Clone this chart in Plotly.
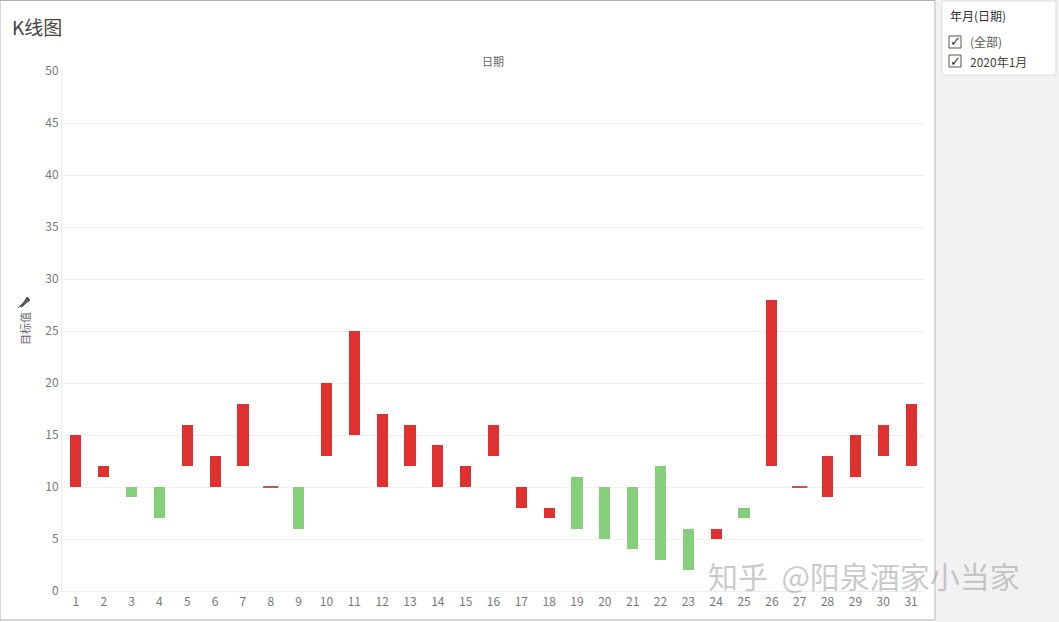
import plotly.graph_objects as go

days = list(range(1, 32))
low_vals = [10, 11, 9, 7, 12, 10, 12, 10, 6, 13, 15, 10, 12, 10, 10, 13, 8, 7, 6, 5, 4, 3, 2, 5, 7, 12, 10, 9, 11, 13, 12]
high_vals = [15, 12, 10, 10, 16, 13, 18, 10, 10, 20, 25, 17, 16, 14, 12, 16, 10, 8, 11, 10, 10, 12, 6, 6, 8, 28, 10, 13, 15, 16, 18]
trend = ["涨", "涨", "跌", "跌", "涨", "涨", "涨", "涨", "跌", "涨", "涨", "涨", "涨", "涨", "涨", "涨",
         "涨", "涨", "跌", "跌", "跌", "跌", "跌", "涨", "跌", "涨", "涨", "涨", "涨", "涨", "涨"]
y_ticks = [0, 5, 10, 15, 20, 25, 30, 35, 40, 45, 50]

RED = "#e03131"
GREEN = "#86cf7a"

W, H = 1059, 622
L, R, T, B = 62, 925, 71, 591

def px(x):
    return (x - L) / (R - L)

def py(y):
    return (B - y) / (B - T)

sizes = [h - l for l, h in zip(low_vals, high_vals)]
colors = [RED if t == "涨" else GREEN for t in trend]

fig = go.Figure()
fig.add_trace(go.Bar(
    x=days, y=sizes, base=low_vals, width=0.4,
    marker=dict(color=colors, line=dict(width=0)),
    showlegend=False,
))
doji_x = [d for d, l, h in zip(days, low_vals, high_vals) if l == h]
doji_y = [l for l, h in zip(low_vals, high_vals) if l == h]
fig.add_trace(go.Scatter(
    x=doji_x, y=doji_y, mode="markers",
    marker=dict(symbol="line-ew", size=11, line=dict(color="#b22222", width=1.5)),
    showlegend=False, hoverinfo="skip",
))

font_family = "Noto Sans CJK SC, Noto Sans, sans-serif"
fig.update_layout(
    width=W, height=H,
    margin=dict(l=L, r=W - R, t=T, b=H - B),
    paper_bgcolor="white", plot_bgcolor="white",
    font=dict(family=font_family, color="#666", size=12),
    bargap=0,
    xaxis=dict(
        range=[0.5, 31.5], tickmode="array", tickvals=days,
        ticktext=[str(d) for d in days],
        showgrid=False, zeroline=False, showline=True, linecolor="#ececec",
        ticks="", tickfont=dict(size=12, color="#777"), fixedrange=True,
    ),
    yaxis=dict(
        range=[0, 50], tickmode="array", tickvals=y_ticks,
        showgrid=True, gridcolor="#f0f0f0", zeroline=False,
        showline=True, linecolor="#ececec", ticks="",
        tickfont=dict(size=12, color="#777"), fixedrange=True,
    ),
)

shapes = []
# right gray panel
shapes.append(dict(type="rect", xref="paper", yref="paper",
                   x0=px(936), x1=px(W + 2), y0=py(H + 2), y1=py(-2),
                   fillcolor="#f2f2f2", line=dict(width=0), layer="below"))
# outer border of left pane
shapes.append(dict(type="rect", xref="paper", yref="paper",
                   x0=px(0), x1=px(935), y0=py(620), y1=py(0.5),
                   fillcolor="rgba(0,0,0,0)", line=dict(color="#b0b0b0", width=1)))
# filter box
shapes.append(dict(type="rect", xref="paper", yref="paper",
                   x0=px(942), x1=px(1056), y0=py(75), y1=py(1),
                   fillcolor="white", line=dict(color="#dcdcdc", width=1)))
# checkboxes
for cy in (42, 61):
    shapes.append(dict(type="rect", xref="paper", yref="paper",
                       x0=px(949), x1=px(961), y0=py(cy + 6), y1=py(cy - 6),
                       fillcolor="white", line=dict(color="#555", width=1)))
# pin icon near y-axis title
shapes.append(dict(type="path", xref="paper", yref="paper",
                   path=f"M {px(20)} {py(306)} L {px(24)} {py(302)} L {px(27)} {py(297)} "
                        f"L {px(30)} {py(300)} L {px(26)} {py(303)} L {px(22)} {py(307)} Z",
                   fillcolor="#555", line=dict(color="#555", width=1)))
shapes.append(dict(type="line", xref="paper", yref="paper",
                   x0=px(18), y0=py(308), x1=px(22), y1=py(304),
                   line=dict(color="#555", width=1)))
fig.update_layout(shapes=shapes)

ann = []
ann.append(dict(text="K线图", x=px(10), y=py(26), xref="paper", yref="paper",
                xanchor="left", yanchor="middle", showarrow=False,
                font=dict(size=19, color="#444", family=font_family)))
ann.append(dict(text="日期", x=px(493), y=py(61), xref="paper", yref="paper",
                xanchor="center", yanchor="middle", showarrow=False,
                font=dict(size=11, color="#666", family=font_family)))
ann.append(dict(text="目标值", x=px(25), y=py(329), xref="paper", yref="paper",
                xanchor="center", yanchor="middle", showarrow=False, textangle=-90,
                font=dict(size=11, color="#666", family=font_family)))
ann.append(dict(text="年月(日期)", x=px(948), y=py(16), xref="paper", yref="paper",
                xanchor="left", yanchor="middle", showarrow=False,
                font=dict(size=12, color="#333", family=font_family)))
ann.append(dict(text="(全部)", x=px(968), y=py(42), xref="paper", yref="paper",
                xanchor="left", yanchor="middle", showarrow=False,
                font=dict(size=12, color="#555", family=font_family)))
ann.append(dict(text="2020年1月", x=px(968), y=py(61), xref="paper", yref="paper",
                xanchor="left", yanchor="middle", showarrow=False,
                font=dict(size=12, color="#444", family=font_family)))
for cy in (42, 61):
    ann.append(dict(text="✓", x=px(955), y=py(cy), xref="paper", yref="paper",
                    xanchor="center", yanchor="middle", showarrow=False,
                    font=dict(size=13, color="#333", family="DejaVu Sans")))
ann.append(dict(text="知乎  @阳泉酒家小当家", x=px(706), y=py(575), xref="paper", yref="paper",
                xanchor="left", yanchor="middle", showarrow=False,
                font=dict(size=30, color="rgba(150,150,150,0.5)", family=font_family)))
fig.update_layout(annotations=ann)

fig.write_html("out.html", config={"displayModeBar": False},
               post_script="document.body.style.margin='0';document.body.style.overflow='hidden';")
